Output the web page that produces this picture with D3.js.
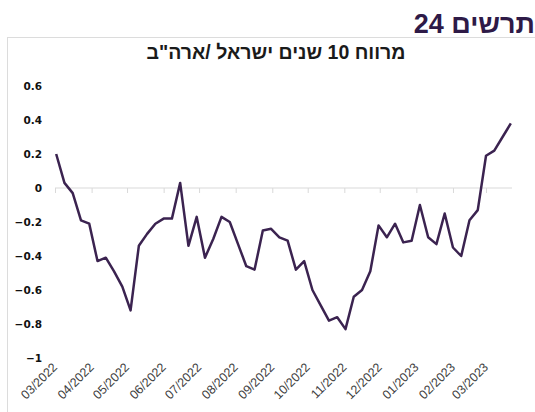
<!DOCTYPE html>
<html lang="he">
<head>
<meta charset="UTF-8">
<title>chart 24</title>
<script src="https://cdn.jsdelivr.net/npm/d3@7"></script>
<style>
  body { margin: 0; background: #fff; }
  text { font-family: "Liberation Sans", Arial, sans-serif; }
</style>
</head>
<body>
<script>
// weekly observations, spread 10y Israel / US (percentage points)
var startDate = new Date(2022, 2, 2)
var spread = [0.20, 0.03, -0.03, -0.19, -0.21, -0.43, -0.41, -0.49, -0.58, -0.72,
              -0.34, -0.27, -0.21, -0.18, -0.18, 0.03, -0.34, -0.17, -0.41, -0.30,
              -0.17, -0.20, -0.33, -0.46, -0.48, -0.25, -0.24, -0.29, -0.31, -0.48,
              -0.43, -0.60, -0.69, -0.78, -0.76, -0.83, -0.64, -0.60, -0.49, -0.22,
              -0.29, -0.21, -0.32, -0.31, -0.10, -0.29, -0.33, -0.15, -0.35, -0.40,
              -0.19, -0.13, 0.19, 0.22, 0.30, 0.38]
var yTicks = [0.6, 0.4, 0.2, 0, -0.2, -0.4, -0.6, -0.8, -1]
var monthTicks = ["03/2022", "04/2022", "05/2022", "06/2022", "07/2022", "08/2022", "09/2022",
                  "10/2022", "11/2022", "12/2022", "01/2023", "02/2023", "03/2023"]
var heading = "תרשים 24"
var title = "מרווח 10 שנים ישראל /ארה\"ב"

var data = spread.map(function(v, i) {
    return { date: d3.timeDay.offset(startDate, i * 7), value: v }
})
var tickDates = monthTicks.map(function(s) {
    var p = s.split("/")
    return new Date(+p[1], +p[0] - 1, 1)
})

var svg = d3.select("body").append("svg")
    .attr("width", 535)
    .attr("height", 412)

// frame of the chart area
svg.append("rect")
    .attr("x", 7.5).attr("y", 37.5)
    .attr("width", 540).attr("height", 400)
    .style("fill", "#fff")
    .style("stroke", "#dcdcdc")

svg.append("text")
    .attr("x", 535).attr("y", 33)
    .attr("text-anchor", "end")
    .style("font-size", "27px")
    .style("font-weight", "bold")
    .style("fill", "#2e1a47")
    .text(heading)

svg.append("text")
    .attr("x", 276).attr("y", 59)
    .attr("text-anchor", "middle")
    .style("font-size", "19.5px")
    .style("font-weight", "bold")
    .style("fill", "#1a1a1a")
    .text(title)

var x = d3.scaleTime()
    .domain([new Date(2022, 2, 1), d3.timeDay.offset(startDate, 55 * 7 + 1)])
    .range([55, 512])
var y = d3.scaleLinear()
    .domain([-1, 0.6])
    .range([358, 86])

// y labels
svg.append("g").selectAll("text")
    .data(yTicks)
    .enter().append("text")
        .attr("x", 42)
        .attr("y", function(d) { return y(d) + 4 })
        .attr("text-anchor", "end")
        .style("font-family", "'DejaVu Sans', Verdana, sans-serif")
        .style("font-size", "10.5px")
        .style("font-weight", "bold")
        .style("fill", "#111")
        .text(function(d) { return d3.format("")(d) })

// zero line + month ticks
var xAxis = svg.append("g")
    .attr("transform", "translate(0," + y(0) + ")")
    .call(d3.axisBottom(x).tickValues(tickDates).tickSize(5).tickFormat(""))
xAxis.select(".domain").remove()
xAxis.selectAll("line").style("stroke", "#d9d9d9")
svg.append("line")
    .attr("x1", x.range()[0]).attr("x2", x.range()[1])
    .attr("y1", y(0)).attr("y2", y(0))
    .style("stroke", "#d9d9d9")
    .style("stroke-width", "1px")

// month labels at the bottom
svg.append("g").selectAll("text")
    .data(tickDates)
    .enter().append("text")
        .attr("transform", function(d) { return "translate(" + (x(d) + 3) + ",368) rotate(-45)" })
        .attr("text-anchor", "end")
        .style("font-size", "12.5px")
        .style("fill", "#404040")
        .text(function(d, i) { return monthTicks[i] })

var line = d3.line()
    .x(function(d) { return x(d.date) })
    .y(function(d) { return y(d.value) })

svg.append("path")
    .datum(data)
    .attr("d", line)
    .style("fill", "none")
    .style("stroke", "#3b2350")
    .style("stroke-width", "2.5px")
    .style("stroke-linejoin", "round")
</script>
</body>
</html>
